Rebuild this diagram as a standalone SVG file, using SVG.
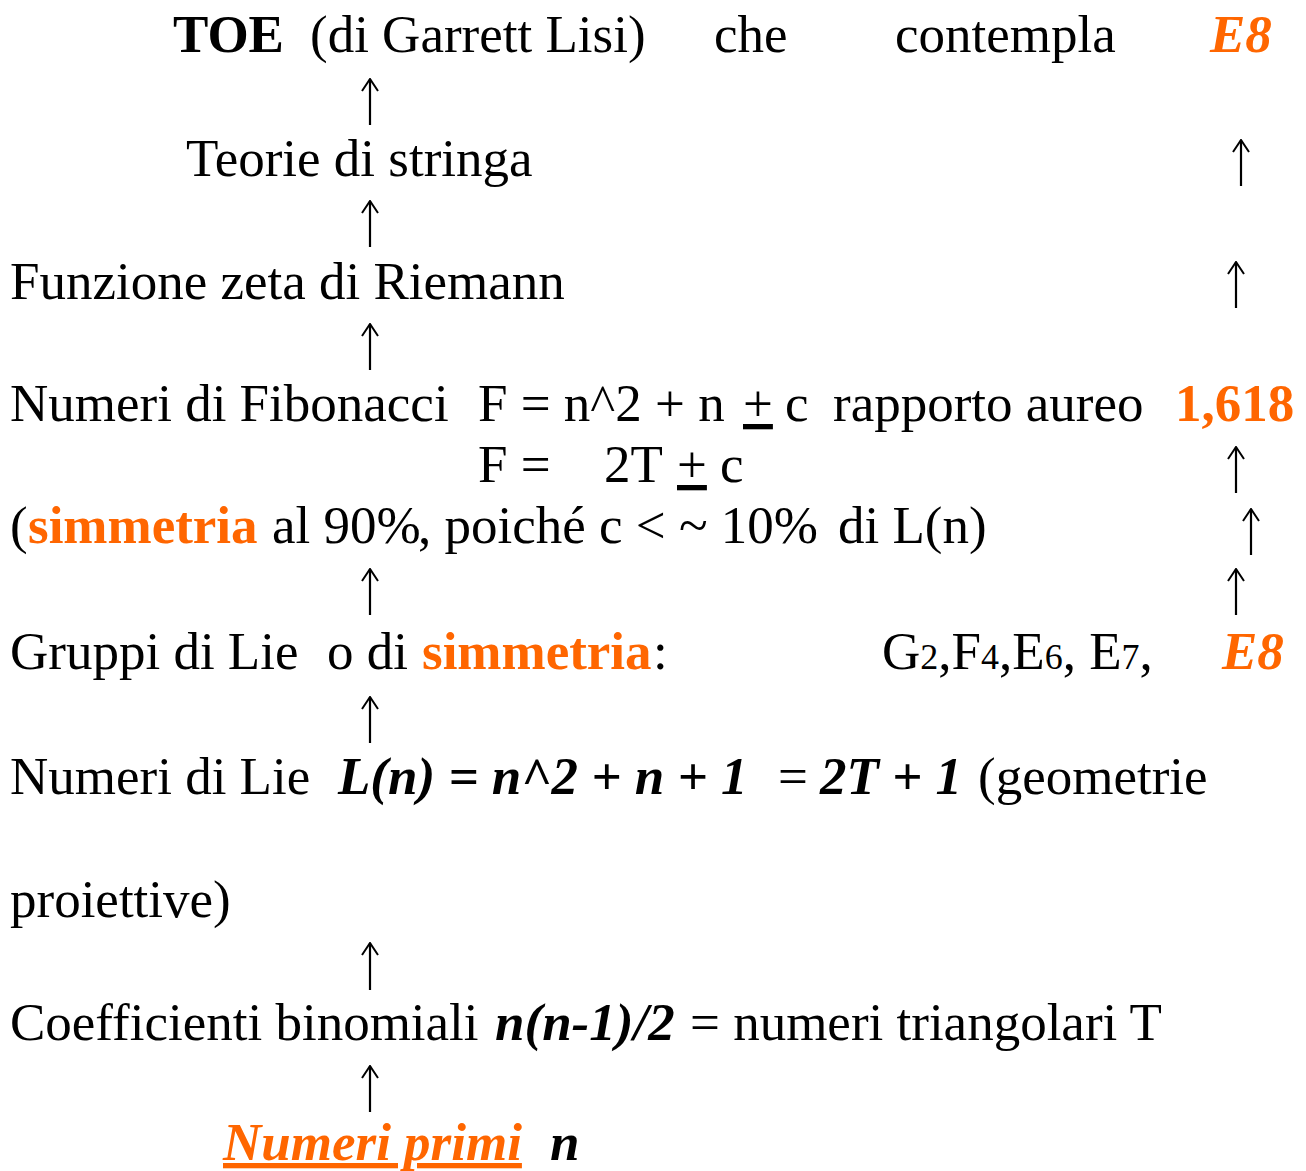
<svg xmlns="http://www.w3.org/2000/svg" width="1306" height="1171" viewBox="0 0 1306 1171">
<style>
text{font-family:"Liberation Serif","Times New Roman",serif;font-size:53px;fill:#000}
.b{font-weight:bold}
.bi{font-weight:bold;font-style:italic}
.or{fill:#FF6600}
.u{text-decoration:underline}
.sub{font-size:36px}
.arr{stroke:#000;stroke-width:2.2;fill:none}
</style>
<defs>
<marker id="ah" viewBox="0 0 14 18" refX="13" refY="9" markerWidth="14" markerHeight="18" markerUnits="userSpaceOnUse" orient="auto">
<path d="M1,1 L13,9 L1,17" fill="none" stroke="#000" stroke-width="2"/>
</marker>
</defs>
<rect width="1306" height="1171" fill="#fff"/>
<g id="connectors">
<line class="arr" x1="370" y1="125" x2="370" y2="79" marker-end="url(#ah)"/>
<line class="arr" x1="370" y1="247" x2="370" y2="201" marker-end="url(#ah)"/>
<line class="arr" x1="370" y1="370" x2="370" y2="324" marker-end="url(#ah)"/>
<line class="arr" x1="370" y1="615" x2="370" y2="569" marker-end="url(#ah)"/>
<line class="arr" x1="370" y1="743" x2="370" y2="697" marker-end="url(#ah)"/>
<line class="arr" x1="370" y1="990" x2="370" y2="943" marker-end="url(#ah)"/>
<line class="arr" x1="370" y1="1112" x2="370" y2="1066" marker-end="url(#ah)"/>
<line class="arr" x1="1241" y1="186" x2="1241" y2="140" marker-end="url(#ah)"/>
<line class="arr" x1="1236" y1="308" x2="1236" y2="262" marker-end="url(#ah)"/>
<line class="arr" x1="1236" y1="493" x2="1236" y2="447" marker-end="url(#ah)"/>
<line class="arr" x1="1251" y1="555" x2="1251" y2="509" marker-end="url(#ah)"/>
<line class="arr" x1="1236" y1="615" x2="1236" y2="569" marker-end="url(#ah)"/>
</g>
<g id="toe">
<text x="173" y="52" class="b">TOE</text>
<text x="310" y="52">(di Garrett Lisi)</text>
<text x="714" y="52">che</text>
<text x="895" y="52">contempla</text>
<text x="1210" y="52" class="bi or">E8</text>
</g>
<g id="stringhe">
<text x="186" y="176">Teorie di stringa</text>
</g>
<g id="zeta">
<text x="10" y="299">Funzione zeta di Riemann</text>
</g>
<g id="fibonacci">
<text x="10" y="421">Numeri di Fibonacci</text>
<text x="478" y="421">F = n^2 + n</text>
<text x="743" y="421" class="u">+</text>
<text x="785" y="421">c</text>
<text x="833" y="421">rapporto aureo</text>
<text x="1175" y="421" class="b or">1,618</text>
<text x="478" y="482">F =</text>
<text x="604" y="482">2T</text>
<text x="677" y="482" class="u">+</text>
<text x="720" y="482">c</text>
<text x="10" y="543">(</text>
<text x="28" y="543" class="b or">simmetria</text>
<text x="272" y="543">al 90%</text>
<text x="418" y="543">, poiché c &lt; ~ 10%</text>
<text x="838" y="543">di L(n)</text>
</g>
<g id="gruppi">
<text x="10" y="669">Gruppi di Lie</text>
<text x="327" y="669">o di</text>
<text x="422" y="669" class="b or">simmetria</text>
<text x="653" y="669">:</text>
<text x="882" y="669">G<tspan class="sub">2</tspan>,F<tspan class="sub">4</tspan>,E<tspan class="sub">6</tspan>, E<tspan class="sub">7</tspan>,</text>
<text x="1222" y="669" class="bi or">E8</text>
</g>
<g id="lie">
<text x="10" y="794">Numeri di Lie</text>
<text x="338" y="794" class="bi">L(n) = n^2 + n + 1</text>
<text x="778" y="794">=</text>
<text x="820" y="794" class="bi">2T + 1</text>
<text x="978" y="794">(geometrie</text>
<text x="10" y="917">proiettive)</text>
</g>
<g id="binomiali">
<text x="10" y="1040">Coefficienti binomiali</text>
<text x="495" y="1040" class="bi">n(n-1)/2</text>
<text x="690" y="1040">= numeri triangolari T</text>
</g>
<g id="primi">
<text x="223" y="1160" class="bi or u">Numeri primi</text>
<text x="550" y="1160" class="bi">n</text>
</g>
</svg>
